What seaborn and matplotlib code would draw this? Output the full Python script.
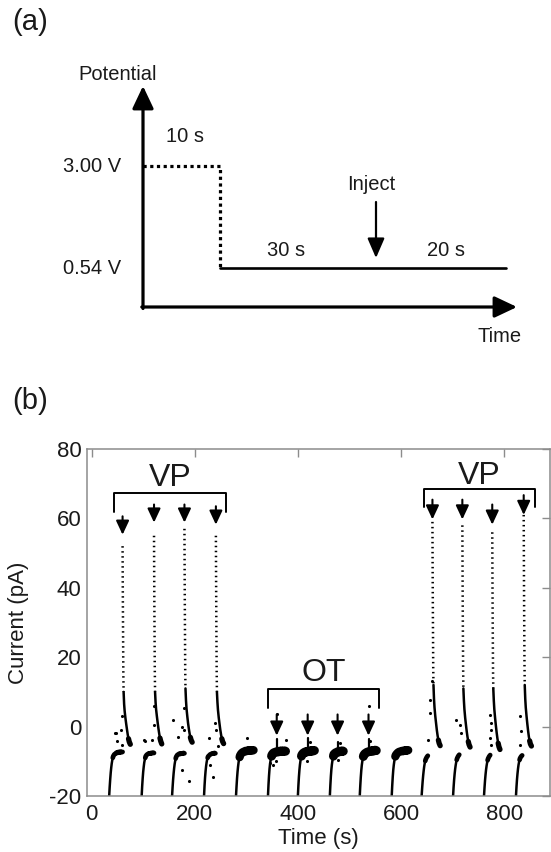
import matplotlib
matplotlib.use("Agg")
import matplotlib.pyplot as plt
import seaborn as sns
import numpy as np

# ---------------- panel (a): potential program (schematic) ----------------
level_labels = ["3.00 V", "0.54 V"]
duration_labels = ["10 s", "30 s", "20 s"]
inject_label = "Inject"
axis_labels_a = ["Potential", "Time"]

# ---------------- panel (b): current trace ----------------
cycle_start = [34, 97, 156, 218, 280, 342, 400, 462, 520, 582, 640, 701, 761, 823]
cycle_kind = ["VP", "VP", "VP", "VP", "none", "OT", "OT", "OT", "OT", "none",
              "VP", "VP", "VP", "VP"]
inject_time = [60, 121, 180, 241, None, 359, 419, 477, 537, None, 661, 719, 777, 838]

trace_rel = [0, 1, 2, 3, 4, 5, 6, 7, 8, 10, 12, 14, 16, 18, 20, 22, 24, 26, 28, 30, 32, 34, 36]
trace_current = [
    [-20, -17.4, -15.2, -13.3, -11.8, -10.6, -9.7, -9.0, -8.5, -8.0, -7.8, -7.5, -7.6, -7.3, -7.5, -7.2, -7.4, -7.3],
    [-20, -17.2, -14.9, -13.0, -11.6, -10.4, -9.6, -9.0, -8.5, -8.1, -7.9, -7.7, -7.8, -7.6, -7.7, -7.5, -7.6],
    [-20, -17.5, -15.3, -13.5, -12.0, -10.8, -9.9, -9.2, -8.7, -8.2, -8.0, -7.8, -7.9, -7.7, -7.8, -7.6, -7.7],
    [-20, -17.0, -14.6, -12.8, -11.4, -10.3, -9.5, -9.0, -8.6, -8.3, -8.0, -7.9, -7.7, -7.8, -7.6, -7.7],
    [-20, -17.3, -14.9, -13.0, -11.5, -10.3, -9.4, -8.8, -8.3, -7.8, -7.5, -7.3, -7.2, -7.0, -7.1, -6.9, -7.0, -6.8, -6.9, -6.8, -6.9, -6.8],
    [-20, -16.8, -14.2, -12.2, -10.8, -9.8, -9.0, -8.5, -8.1, -7.7, -7.5, -7.4, -7.3, -7.2, -7.3, -7.1, -7.2, -7.0, -7.2, -7.1, -7.0, -7.1],
    [-20, -17.0, -14.5, -12.5, -11.0, -9.9, -9.1, -8.5, -8.1, -7.7, -7.5, -7.3, -7.4, -7.2, -7.1, -7.2, -7.0, -7.1, -6.9, -7.0, -6.9],
    [-20, -16.9, -14.3, -12.3, -10.9, -9.8, -9.0, -8.5, -8.0, -7.7, -7.5, -7.4, -7.2, -7.3, -7.1, -7.2, -7.0, -7.1],
    [-20, -17.1, -14.6, -12.6, -11.1, -10.0, -9.2, -8.6, -8.2, -7.8, -7.6, -7.4, -7.3, -7.2, -7.1, -7.0, -7.1, -6.9, -7.0, -6.8, -6.9],
    [-20, -17.0, -14.5, -12.5, -11.1, -10.0, -9.2, -8.6, -8.2, -7.8, -7.5, -7.3, -7.2, -7.1, -7.0, -7.1, -6.9, -7.0, -6.8, -6.9, -6.8],
    [-20, -17.8, -15.8, -14.1, -12.7, -11.5, -10.6, -9.9, -9.4, -8.8, -8.4],
    [-20, -17.5, -15.4, -13.7, -12.3, -11.2, -10.3, -9.6, -9.1, -8.5, -8.1],
    [-20, -17.6, -15.5, -13.8, -12.4, -11.3, -10.4, -9.7, -9.2, -8.6, -8.2],
    [-20, -17.4, -15.2, -13.5, -12.1, -11.0, -10.2, -9.6, -9.1, -8.6, -8.3],
]

spike_rel = [0, 0.3, 0.6, 0.9, 1.2, 1.5, 2, 3, 4, 5.5, 7, 8.5, 10, 11.5, 13, 15]
spike_current = [
    [52, 43, 35, 28, 21, 15, 10, 6.5, 4.5, 2.5, 0.8, -0.8, -2.3, -3.5, -4.4, -5.1],
    [55, 45, 36, 29, 22, 16, 10, 7.0, 5.0, 3.0, 1.2, -0.5, -2.0, -3.3, -4.2, -5.0],
    [57, 47, 38, 30, 23, 16, 11, 7.5, 5.2, 3.0, 1.0, -0.6, -2.0, -3.1, -3.9, -4.5],
    [55, 45, 37, 29, 22, 16, 10, 7.0, 4.8, 2.6, 0.8, -0.9, -2.3, -3.5, -4.3, -4.9],
    [59, 48, 39, 31, 24, 17, 12, 8.0, 5.5, 3.0, 1.0, -1.0, -2.6, -3.9, -4.8, -5.5],
    [58, 48, 39, 31, 24, 17, 11, 7.5, 5.0, 2.5, 0.5, -1.4, -3.0, -4.3, -5.2, -5.9],
    [56, 46, 37, 30, 23, 16, 11, 7.5, 5.0, 2.5, 0.3, -1.7, -3.4, -4.8, -5.8, -6.6],
    [61, 50, 40, 32, 25, 18, 12, 8.0, 5.5, 3.0, 0.8, -1.2, -2.9, -4.1, -5.0, -5.6],
]
ot_blip_peak = [-3.5, -3.3, -4.5, -3.6]

outlier_time = [45.5, 47.6, 50, 57, 58.5, 59.7, 102, 103.6, 118, 120, 120.5, 158.6, 167,
                174.7, 174.7, 179.3, 180, 189, 227.7, 229.6, 234.8, 239.3, 242, 244.5,
                302, 346, 352, 358, 359, 376, 418, 424, 478, 482, 537, 540, 653, 656, 657,
                660, 705.8, 715, 717, 772, 772, 773.6, 775.5, 775.5, 830, 833.7, 830]
outlier_current = [-1.8, -1.8, -4.2, -0.9, -5.2, 3.0, -3.9, -4.2, -3.9, 0.6, 5.8, 1.8, -3.1,
                   -0.2, -12.4, -0.9, 5.5, -15.8, -3.2, -11.0, -14.6, 1.0, -1.0, -5.7,
                   -3.3, -10.5, -11.0, -10.0, 3.5, -3.8, -9.8, -4.5, -9.5, -4.8, 5.8, -4.2,
                   -3.8, 3.9, 7.8, 13.0, 2.0, 0.5, -1.8, 3.4, -3.3, 1.0, -0.9, -5.2, 3.0,
                   -1.3, -5.2]

group_labels = ["VP", "OT", "VP"]
group_start = [44, 343, 644]
group_end = [260, 558, 860]
group_bracket_y = [67.2, 10.7, 68.6]
group_leg_y = [61.8, 5.5, 63.3]
group_text_y = [69.3, 13.0, 69.8]

arrow_time = [60, 121, 180, 241, 359, 419, 477, 537, 661, 719, 777, 838]
arrow_top = [60.6, 64.0, 64.0, 63.5, 3.5, 3.5, 3.5, 3.5, 65.4, 65.4, 64.0, 66.7]
arrow_tip = [55.3, 58.8, 58.8, 58.2, -2.6, -2.6, -2.6, -2.6, 59.7, 59.7, 58.2, 61.0]

x_ticks = [0, 200, 400, 600, 800]
y_ticks = [-20, 0, 20, 40, 60, 80]

# ---------------- style ----------------
sns.set_style("white")
plt.rcParams["font.family"] = ["Liberation Sans", "DejaVu Sans"]
plt.rcParams["axes.unicode_minus"] = False

W, H = 551, 852
fig = plt.figure(figsize=(W / 100, H / 100), dpi=100)

# ---- panel (a) drawn in a figure-pixel overlay ----
axa = fig.add_axes([0, 0, 1, 1], zorder=0)
axa.set_xlim(0, W)
axa.set_ylim(H, 0)
axa.axis("off")

tcol = "#1a1a1a"
axa.text(30, 22, "(a)", fontsize=21, ha="center", va="center", color=tcol)
axa.text(30, 401, "(b)", fontsize=21, ha="center", va="center", color=tcol)

ax_x0, ax_y0 = 143, 307
big_arrow = dict(arrowstyle="-|>,head_length=0.55,head_width=0.26", color="k", lw=2.3,
                 mutation_scale=25, shrinkA=0, shrinkB=0)
axa.annotate("", xy=(ax_x0, 86), xytext=(ax_x0, ax_y0 + 1.5), arrowprops=big_arrow)
axa.annotate("", xy=(517, ax_y0), xytext=(ax_x0 - 1.2, ax_y0), arrowprops=big_arrow)

y_hi, y_lo, x_step, x_end = 166, 268, 220, 506
axa.plot([ax_x0, x_step, x_step], [y_hi, y_hi, y_lo], color="k", lw=2.3,
         linestyle=(0, (1.0, 1.1)), solid_capstyle="butt")
axa.plot([x_step, x_end], [y_lo, y_lo], color="k", lw=1.9)

inj_arrow = dict(arrowstyle="-|>,head_length=0.6,head_width=0.26", color="k", lw=1.6,
                 mutation_scale=20, shrinkA=0, shrinkB=0)
axa.annotate("", xy=(376, 258), xytext=(376, 202), arrowprops=inj_arrow)

fs_a = 14.5
axa.text(118, 74, axis_labels_a[0], fontsize=fs_a, ha="center", va="center", color=tcol)
axa.text(500, 337, axis_labels_a[1], fontsize=fs_a, ha="center", va="center", color=tcol)
axa.text(92, 166, level_labels[0], fontsize=fs_a, ha="center", va="center", color=tcol)
axa.text(92, 269, level_labels[1], fontsize=fs_a, ha="center", va="center", color=tcol)
axa.text(185, 137, duration_labels[0], fontsize=fs_a, ha="center", va="center", color=tcol)
axa.text(286, 250, duration_labels[1], fontsize=fs_a, ha="center", va="center", color=tcol)
axa.text(446, 250, duration_labels[2], fontsize=fs_a, ha="center", va="center", color=tcol)
axa.text(371, 185, inject_label, fontsize=fs_a, ha="center", va="center", color=tcol)

# ---- panel (b) ----
ax = fig.add_axes([87 / W, 1 - 796 / H, (550 - 87) / W, (796 - 449) / H], zorder=1)
ax.set_facecolor("none")

def line(xs, ys, **kw):
    sns.lineplot(x=np.asarray(xs, float), y=np.asarray(ys, float), ax=ax, color="k",
                 estimator=None, sort=False, legend=False, **kw)

plateau_lw = {"VP": 3.4, "OT": 6.5, "none": 6.0}
for start, kind, cur in zip(cycle_start, cycle_kind, trace_current):
    ts = [start + r for r in trace_rel[:len(cur)]]
    line(ts, cur, lw=1.8)
    line(ts[7:], cur[7:], lw=plateau_lw[kind])

vp_injects = [t for t, k in zip(inject_time, cycle_kind) if k == "VP"]
for t0, cur in zip(vp_injects, spike_current):
    ts = [t0 + r for r in spike_rel]
    line(ts[:7], cur[:7], lw=1.8, linestyle=(0, (0.6, 1.4)))
    line(ts[6:], cur[6:], lw=1.8)
    line(ts[-3:], cur[-3:], lw=3.8)

ot_injects = [t for t, k in zip(inject_time, cycle_kind) if k == "OT"]
for t0, pk in zip(ot_injects, ot_blip_peak):
    line([t0, t0], [-7.5, pk], lw=1.6)

sns.scatterplot(x=outlier_time, y=outlier_current, ax=ax, color="k", s=5, linewidth=0,
                legend=False)

# group brackets and labels
for lab, x0, x1, yb, yl, yt in zip(group_labels, group_start, group_end,
                                   group_bracket_y, group_leg_y, group_text_y):
    line([x0, x0, x1, x1], [yl, yb, yb, yl], lw=1.4)
    ax.text((x0 + x1) / 2, yt, lab, fontsize=23, ha="center", va="baseline", color=tcol)

arr_b = dict(arrowstyle="-|>,head_length=0.6,head_width=0.28", color="k", lw=1.5,
             mutation_scale=14, shrinkA=0, shrinkB=0)
for t, yt, yp in zip(arrow_time, arrow_top, arrow_tip):
    ax.annotate("", xy=(t, yp), xytext=(t, yt), arrowprops=arr_b)

ax.set_xlim(-9, 889)
ax.set_ylim(-20, 80)
ax.set_xticks(x_ticks)
ax.set_yticks(y_ticks)
ax.set_xticklabels([str(v) for v in x_ticks])
ax.set_yticklabels([str(v) for v in y_ticks])
ax.tick_params(direction="in", top=True, right=True, labeltop=False, labelright=False,
               length=5.5, width=1.0, color="#8c8c8c", labelsize=16, labelcolor=tcol)
ax.tick_params(axis="x", pad=6)
ax.tick_params(axis="y", pad=4)
for s in ax.spines.values():
    s.set_visible(True)
    s.set_color("#8c8c8c")
    s.set_linewidth(1.1)
ax.set_xlabel("Time (s)", fontsize=16, color=tcol)
ax.set_ylabel("Current (pA)", fontsize=16, color=tcol)
ax.yaxis.set_label_coords(-0.125, 0.5)
ax.xaxis.set_label_coords(0.5, -0.093)

fig.savefig("out.png", dpi=100)
